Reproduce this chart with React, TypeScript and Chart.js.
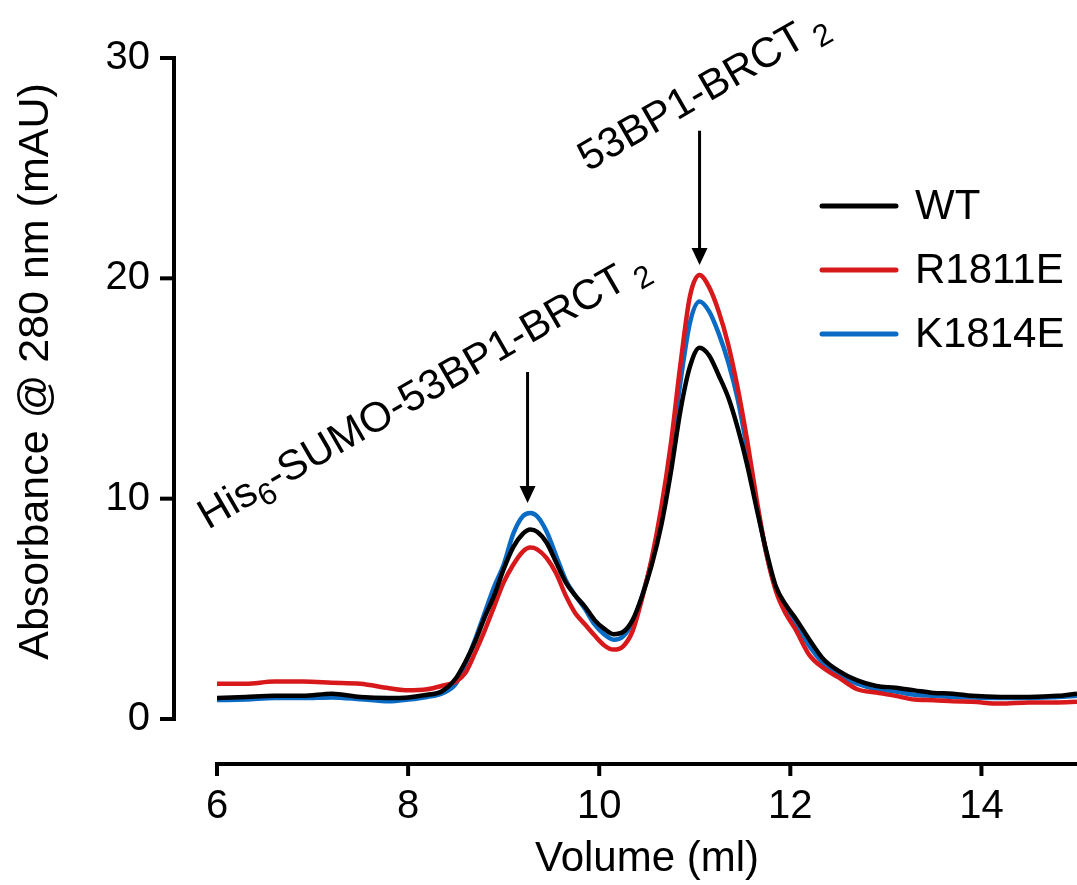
import React, { useEffect, useRef } from 'react';
import { Chart, registerables } from 'chart.js';

Chart.register(...registerables);

// ---- Data ----
const volume = [
  6.0, 6.3, 6.6, 6.9, 7.2, 7.5, 7.8, 8.0, 8.2, 8.35, 8.5, 8.6, 8.7, 8.8, 8.9, 9.0, 9.1, 9.2, 9.28, 9.35,
  9.45, 9.55, 9.65, 9.75, 9.85, 9.95, 10.05, 10.15, 10.25, 10.35, 10.45, 10.55, 10.65, 10.75, 10.85, 10.95,
  11.05, 11.15, 11.25, 11.35, 11.45, 11.55, 11.65, 11.75, 11.85, 11.95, 12.05, 12.2, 12.35, 12.5, 12.7, 12.9,
  13.1, 13.3, 13.5, 13.7, 13.9, 14.2, 14.5, 14.8, 15.0,
];

const wt = [
  0.95, 1.0, 1.05, 1.05, 1.15, 1.0, 0.95, 0.98, 1.1, 1.25, 1.85, 2.6, 3.5, 4.6, 5.6, 6.8, 7.8, 8.4, 8.6, 8.5,
  8.0, 7.1, 6.2, 5.6, 5.1, 4.5, 4.1, 3.85, 3.95, 4.5, 5.6, 7.0, 8.8, 11.2, 14.0, 16.0,
  16.85, 16.5, 15.6, 14.6, 13.2, 11.5, 9.5, 7.6, 6.0, 5.2, 4.6, 3.6, 2.7, 2.2, 1.75, 1.5,
  1.42, 1.3, 1.18, 1.15, 1.05, 1.0, 1.0, 1.05, 1.15,
];

const r1811e = [
  1.6, 1.6, 1.7, 1.7, 1.65, 1.6, 1.4, 1.3, 1.35, 1.5, 1.7, 2.1, 3.0, 4.0, 5.1, 6.2, 7.0, 7.6, 7.78, 7.7,
  7.3, 6.6, 5.6, 4.8, 4.3, 3.8, 3.35, 3.15, 3.3, 4.0, 5.5, 7.3, 9.6, 12.5, 16.1, 19.2,
  20.15, 19.6, 18.5, 17.0, 15.0, 12.6, 9.9, 7.5, 5.8, 4.8, 4.1, 2.9, 2.3, 1.9, 1.35, 1.2,
  1.05, 0.88, 0.85, 0.8, 0.78, 0.7, 0.75, 0.75, 0.78,
];

const k1814e = [
  0.86, 0.88, 0.95, 0.95, 0.98, 0.9, 0.8, 0.88, 1.0, 1.15, 1.6, 2.5, 3.6, 4.8, 6.0, 7.0, 8.4, 9.2, 9.35, 9.2,
  8.5, 7.4, 6.3, 5.6, 5.0, 4.3, 3.85, 3.6, 3.75, 4.4, 5.6, 7.2, 9.2, 12.0, 15.3, 18.0,
  18.95, 18.5, 17.5, 16.2, 14.5, 12.2, 9.7, 7.5, 5.9, 5.0, 4.4, 3.3, 2.5, 2.0, 1.6, 1.35,
  1.25, 1.1, 1.05, 1.0, 0.98, 0.95, 0.95, 1.0, 1.05,
];

const seriesNames = ['WT', 'R1811E', 'K1814E'];
const seriesColors = ['#000000', '#d7191c', '#0a6bc4'];
const seriesValues = [wt, r1811e, k1814e];

const xTicks = [6, 8, 10, 12, 14];
const yTicks = [0, 10, 20, 30];
const xRange = [6, 15];
const yRange = [0, 30];

const xTitle = 'Volume (ml)';
const yTitle = 'Absorbance @ 280 nm (mAU)';

// Peak annotations: arrow volume, arrow start value, arrow tip value
const peak1Arrow = [9.25, 15.75, 9.8];
const peak2Arrow = [11.05, 26.7, 20.6];

const FONT = "'Liberation Sans', Arial, Helvetica, sans-serif";

function drawArrow(ctx: CanvasRenderingContext2D, x: number, y0: number, y1: number) {
  ctx.save();
  ctx.strokeStyle = '#000';
  ctx.fillStyle = '#000';
  ctx.lineWidth = 3;
  ctx.beginPath();
  ctx.moveTo(x, y0);
  ctx.lineTo(x, y1 - 14);
  ctx.stroke();
  ctx.beginPath();
  ctx.moveTo(x - 8, y1 - 17);
  ctx.lineTo(x + 8, y1 - 17);
  ctx.lineTo(x, y1);
  ctx.closePath();
  ctx.fill();
  ctx.restore();
}

type Piece = { t: string; sub?: boolean };

function drawRotatedLabel(ctx: CanvasRenderingContext2D, x: number, y: number, pieces: Piece[], angleDeg: number) {
  ctx.save();
  ctx.translate(x, y);
  ctx.rotate((angleDeg * Math.PI) / 180);
  ctx.fillStyle = '#000';
  ctx.textBaseline = 'alphabetic';
  ctx.textAlign = 'left';
  let cx = 0;
  for (const p of pieces) {
    if (p.sub) {
      ctx.font = `31px ${FONT}`;
      ctx.fillText(p.t, cx, 9);
    } else {
      ctx.font = `42px ${FONT}`;
      ctx.fillText(p.t, cx, 0);
    }
    cx += ctx.measureText(p.t).width;
  }
  ctx.restore();
}

const decorPlugin = {
  id: 'decor',
  afterDraw(chart: any) {
    const ctx: CanvasRenderingContext2D = chart.ctx;
    const xs = chart.scales.x;
    const ys = chart.scales.y;
    ctx.save();
    ctx.strokeStyle = '#000';
    ctx.lineWidth = 4;
    ctx.lineCap = 'butt';

    // Y axis (offset left of plot)
    const axX = xs.getPixelForValue(xRange[0]) - 43;
    const yTop = ys.getPixelForValue(yRange[1]);
    const yBot = ys.getPixelForValue(yRange[0]);
    ctx.beginPath();
    ctx.moveTo(axX, yBot + 2);
    ctx.lineTo(axX, yTop - 2);
    ctx.stroke();
    for (const v of yTicks) {
      const py = ys.getPixelForValue(v);
      ctx.beginPath();
      ctx.moveTo(axX - 14, py);
      ctx.lineTo(axX + 2, py);
      ctx.stroke();
    }

    // X axis (offset below plot)
    const axY = yBot + 45;
    ctx.beginPath();
    ctx.moveTo(xs.getPixelForValue(xRange[0]) - 2, axY);
    ctx.lineTo(chart.width, axY);
    ctx.stroke();
    for (const v of xTicks) {
      const px = xs.getPixelForValue(v);
      ctx.beginPath();
      ctx.moveTo(px, axY - 2);
      ctx.lineTo(px, axY + 12);
      ctx.stroke();
    }

    // Y title
    ctx.save();
    ctx.translate(36, (yTop + yBot) / 2 - 17);
    ctx.rotate(-Math.PI / 2);
    ctx.font = `43px ${FONT}`;
    ctx.fillStyle = '#000';
    ctx.textAlign = 'center';
    ctx.textBaseline = 'middle';
    ctx.fillText(yTitle, 0, 0);
    ctx.restore();

    // Legend
    const legX = 820;
    const legY0 = 206;
    ctx.lineCap = 'round';
    ctx.lineWidth = 5;
    ctx.font = `42px ${FONT}`;
    ctx.textBaseline = 'middle';
    ctx.textAlign = 'left';
    seriesNames.forEach((name, i) => {
      const y = legY0 + i * 64;
      ctx.strokeStyle = seriesColors[i];
      ctx.beginPath();
      ctx.moveTo(legX + 2, y);
      ctx.lineTo(legX + 76, y);
      ctx.stroke();
      ctx.fillStyle = '#000';
      ctx.fillText(name, legX + 95, y + 1);
    });
    ctx.restore();

    // Arrows
    drawArrow(ctx, xs.getPixelForValue(peak1Arrow[0]), ys.getPixelForValue(peak1Arrow[1]), ys.getPixelForValue(peak1Arrow[2]));
    drawArrow(ctx, xs.getPixelForValue(peak2Arrow[0]), ys.getPixelForValue(peak2Arrow[1]), ys.getPixelForValue(peak2Arrow[2]));

    // Rotated labels
    drawRotatedLabel(
      ctx,
      208,
      530,
      [{ t: 'His' }, { t: '6', sub: true }, { t: '-SUMO-53BP1-BRCT' }, { t: ' ', sub: true }, { t: '2', sub: true }],
      -30,
    );
    drawRotatedLabel(ctx, 588, 172, [{ t: '53BP1-BRCT' }, { t: ' ', sub: true }, { t: '2', sub: true }], -30);
  },
};

export default function App() {
  const ref = useRef<HTMLCanvasElement | null>(null);
  useEffect(() => {
    if (!ref.current) return;
    Chart.defaults.font.family = FONT;
    Chart.defaults.color = '#000';
    const datasets = seriesNames.map((name, i) => ({
      label: name,
      data: volume.map((v, j) => ({ x: v, y: seriesValues[i][j] })),
      borderColor: seriesColors[i],
      backgroundColor: seriesColors[i],
      borderWidth: 4.5,
      pointRadius: 0,
      cubicInterpolationMode: 'monotone' as const,
      fill: false,
    }));
    const chart = new Chart(ref.current, {
      type: 'line',
      data: { datasets },
      options: {
        responsive: false,
        animation: false,
        events: [],
        layout: { padding: { top: 58, right: 0, left: 0, bottom: 0 } },
        plugins: { legend: { display: false }, tooltip: { enabled: false } },
        scales: {
          x: {
            type: 'linear',
            min: xRange[0],
            max: xRange[1],
            grid: { display: false, drawTicks: false },
            border: { display: false },
            afterBuildTicks: (s: any) => {
              s.ticks = xTicks.map((v) => ({ value: v }));
            },
            afterFit: (s: any) => {
              s.height = 166;
              s.paddingLeft = 0;
              s.paddingRight = 0;
            },
            ticks: { font: { size: 40 }, color: '#000', padding: 64, maxRotation: 0 },
            title: { display: true, text: xTitle, font: { size: 42 }, color: '#000', padding: { top: 0, bottom: 0 } },
          },
          y: {
            type: 'linear',
            min: yRange[0],
            max: yRange[1],
            grid: { display: false, drawTicks: false },
            border: { display: false },
            afterBuildTicks: (s: any) => {
              s.ticks = yTicks.map((v) => ({ value: v }));
            },
            afterFit: (s: any) => {
              s.width = 217;
              s.paddingTop = 0;
              s.paddingBottom = 0;
            },
            ticks: { font: { size: 40 }, color: '#000', padding: 67 },
          },
        },
      },
      plugins: [decorPlugin],
    });
    return () => chart.destroy();
  }, []);
  return (
    <div style={{ position: 'absolute', left: 0, top: 0, width: 1077, height: 885, background: '#fff' }}>
      <canvas ref={ref} width={1077} height={885} />
    </div>
  );
}
